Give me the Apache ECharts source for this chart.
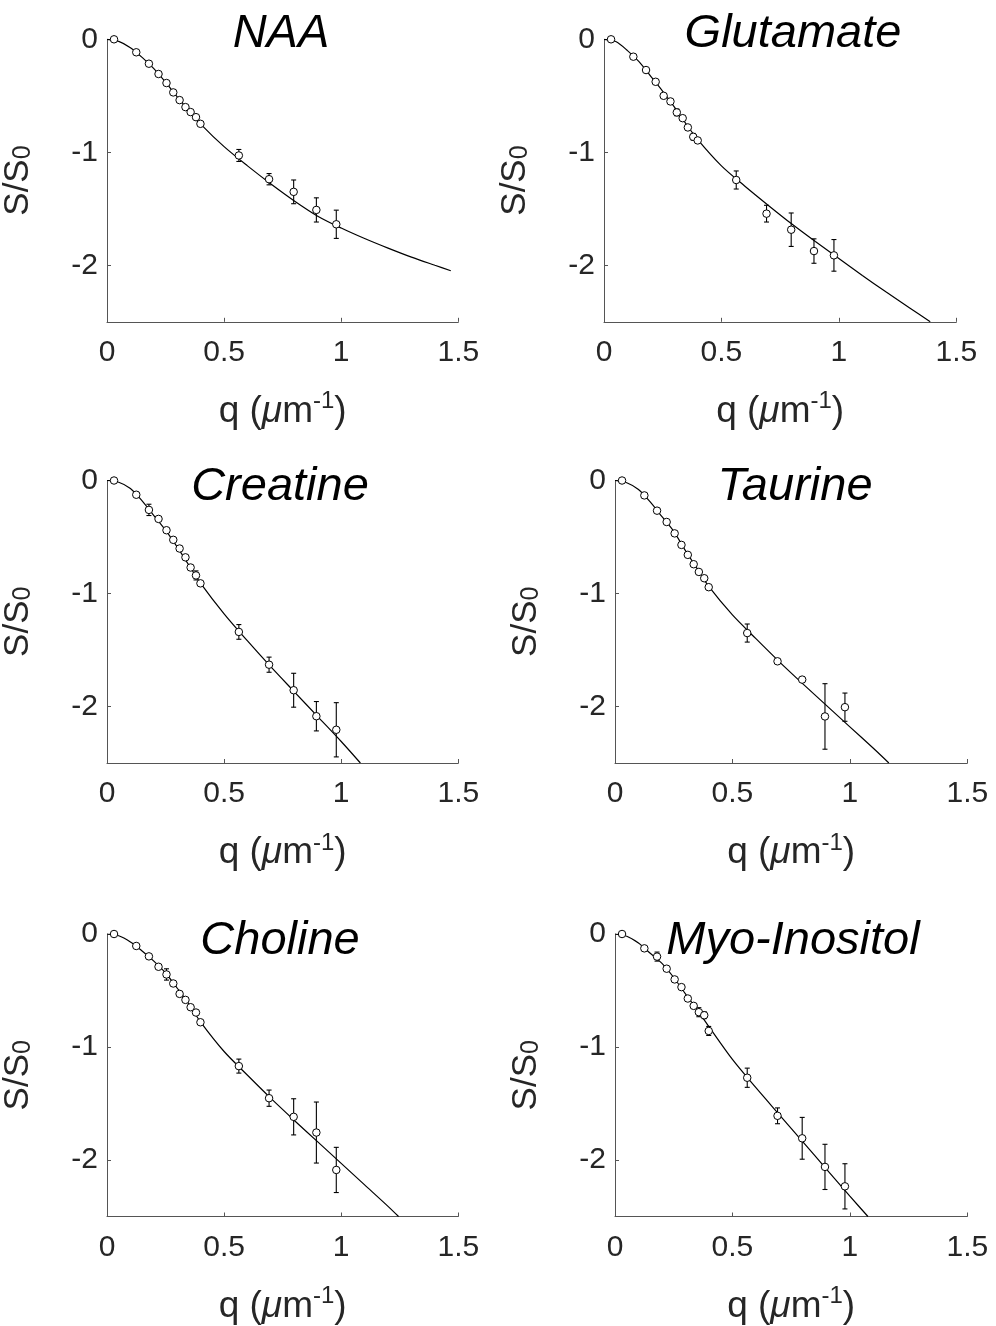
<!DOCTYPE html>
<html><head><meta charset="utf-8">
<script src="https://cdn.jsdelivr.net/npm/echarts@6/dist/echarts.min.js"></script>
<style>html,body{margin:0;padding:0;background:#fff}#c{width:996px;height:1326px}</style>
</head><body><div id="c"></div>
<script>
// ---- tick labels ----
const xTicks = [0, 0.5, 1, 1.5];
const yTicks = [0, -1, -2];
const titles = ['NAA', 'Glutamate', 'Creatine', 'Taurine', 'Choline', 'Myo-Inositol'];

// ---- measured q values (µm^-1), common to all panels ----
const q = [0.03, 0.125, 0.179, 0.22, 0.254, 0.283, 0.31, 0.335, 0.357, 0.38, 0.399, 0.563, 0.692, 0.797, 0.894, 0.979];

// ---- data points and error bars ----
const naaY   = [0, -0.115, -0.216, -0.307, -0.387, -0.470, -0.538, -0.600, -0.644, -0.689, -0.748, -1.028, -1.238, -1.350, -1.510, -1.637];
const naaErr = [0.005, 0.01, 0.01, 0.01, 0.01, 0.01, 0.01, 0.01, 0.01, 0.01, 0.01, 0.053, 0.05, 0.105, 0.107, 0.125];
const gluY   = [0, -0.154, -0.272, -0.376, -0.50, -0.55, -0.647, -0.698, -0.78, -0.863, -0.895, -1.245, -1.543, -1.685, -1.874, -1.912];
const gluErr = [0.005, 0.01, 0.01, 0.01, 0.02, 0.01, 0.03, 0.02, 0.01, 0.03, 0.01, 0.08, 0.074, 0.148, 0.108, 0.14];
const creY   = [0, -0.126, -0.26, -0.34, -0.44, -0.525, -0.602, -0.68, -0.77, -0.84, -0.91, -1.34, -1.63, -1.856, -2.086, -2.206];
const creErr = [0.005, 0.01, 0.05, 0.01, 0.01, 0.01, 0.01, 0.01, 0.02, 0.04, 0.01, 0.065, 0.067, 0.15, 0.13, 0.24];
const tauY   = [0, -0.132, -0.267, -0.367, -0.468, -0.57, -0.658, -0.741, -0.809, -0.865, -0.944, -1.35, -1.60, -1.762, -2.088, -2.006];
const tauErr = [0.005, 0.01, 0.01, 0.01, 0.01, 0.01, 0.01, 0.01, 0.01, 0.01, 0.01, 0.08, 0.02, 0.015, 0.29, 0.125];
const choY   = [0, -0.106, -0.198, -0.29, -0.358, -0.438, -0.53, -0.583, -0.648, -0.695, -0.781, -1.169, -1.453, -1.618, -1.757, -2.088];
const choErr = [0.005, 0.01, 0.01, 0.01, 0.05, 0.02, 0.01, 0.01, 0.02, 0.01, 0.01, 0.062, 0.072, 0.16, 0.27, 0.2];
const myoY   = [0, -0.127, -0.2, -0.307, -0.402, -0.47, -0.571, -0.636, -0.692, -0.719, -0.858, -1.272, -1.609, -1.808, -2.061, -2.233];
const myoErr = [0.005, 0.01, 0.04, 0.01, 0.01, 0.01, 0.01, 0.02, 0.04, 0.03, 0.04, 0.085, 0.07, 0.185, 0.2, 0.2];

// ---- fitted curves ----
const naaFitQ = [0, 0.05, 0.1, 0.15, 0.2, 0.25, 0.3, 0.35, 0.4, 0.5, 0.6, 0.7, 0.8, 0.9, 1.0, 1.1, 1.2, 1.3, 1.4, 1.468];
const naaFitY = [0, -0.018, -0.074, -0.16, -0.26, -0.38, -0.51, -0.63, -0.75, -0.95, -1.12, -1.28, -1.43, -1.565, -1.67, -1.763, -1.848, -1.928, -2.0, -2.048];
const gluFitQ = [0, 0.05, 0.1, 0.15, 0.2, 0.25, 0.3, 0.35, 0.4, 0.5, 0.6, 0.7, 0.8, 0.9, 1.0, 1.1, 1.2, 1.3, 1.389];
const gluFitY = [0, -0.02, -0.1, -0.2, -0.33, -0.46, -0.6, -0.75, -0.89, -1.12, -1.30, -1.47, -1.635, -1.79, -1.94, -2.09, -2.235, -2.375, -2.5];
const creFitQ = [0, 0.05, 0.1, 0.15, 0.2, 0.25, 0.3, 0.35, 0.4, 0.5, 0.6, 0.7, 0.8, 0.9, 1.0, 1.082];
const creFitY = [0, -0.015, -0.07, -0.18, -0.31, -0.44, -0.59, -0.75, -0.91, -1.18, -1.42, -1.65, -1.87, -2.09, -2.31, -2.5];
const tauFitQ = [0, 0.05, 0.1, 0.15, 0.2, 0.25, 0.3, 0.35, 0.4, 0.5, 0.6, 0.7, 0.8, 0.9, 1.0, 1.1, 1.166];
const tauFitY = [0, -0.02, -0.08, -0.19, -0.32, -0.45, -0.62, -0.78, -0.94, -1.19, -1.40, -1.605, -1.80, -1.99, -2.18, -2.37, -2.5];
const choFitQ = [0, 0.05, 0.1, 0.15, 0.2, 0.25, 0.3, 0.35, 0.4, 0.5, 0.6, 0.7, 0.8, 0.9, 1.0, 1.1, 1.2, 1.245];
const choFitY = [0, -0.015, -0.07, -0.15, -0.24, -0.345, -0.48, -0.62, -0.78, -1.04, -1.25, -1.455, -1.65, -1.84, -2.03, -2.22, -2.41, -2.5];
const myoFitQ = [0, 0.05, 0.1, 0.15, 0.2, 0.25, 0.3, 0.35, 0.4, 0.5, 0.6, 0.7, 0.8, 0.9, 1.0, 1.077];
const myoFitY = [0, -0.02, -0.08, -0.17, -0.26, -0.385, -0.53, -0.67, -0.82, -1.11, -1.36, -1.60, -1.84, -2.08, -2.32, -2.5];

// ---- layout (pixels) ----
const FONT = '"Liberation Sans", Arial, Helvetica, sans-serif';
const TXT = '#262626', AX = '#555555';
const layout = [
  {left: 106, top: 39.3, tx: 281, ty: 34},
  {left: 604, top: 39.3, tx: 793, ty: 34},
  {left: 106, top: 480.5, tx: 280, ty: 487},
  {left: 615, top: 480.5, tx: 795, ty: 487},
  {left: 106, top: 934, tx: 280, ty: 941},
  {left: 615, top: 934, tx: 793, ty: 941}
];
const W = 352.3, H = 282.5;
const dataSets = [
  [naaY, naaErr, naaFitQ, naaFitY],
  [gluY, gluErr, gluFitQ, gluFitY],
  [creY, creErr, creFitQ, creFitY],
  [tauY, tauErr, tauFitQ, tauFitY],
  [choY, choErr, choFitQ, choFitY],
  [myoY, myoErr, myoFitQ, myoFitY]
];

function errRender(params, api) {
  const x = api.value(0), lo = api.value(1), hi = api.value(2);
  const p1 = api.coord([x, hi]), p2 = api.coord([x, lo]);
  const w = 2.5;
  const st = {stroke: '#000', lineWidth: 1.1};
  return {type: 'group', children: [
    {type: 'line', shape: {x1: p1[0], y1: p1[1], x2: p2[0], y2: p2[1]}, style: st},
    {type: 'line', shape: {x1: p1[0] - w, y1: p1[1], x2: p1[0] + w, y2: p1[1]}, style: st},
    {type: 'line', shape: {x1: p2[0] - w, y1: p2[1], x2: p2[0] + w, y2: p2[1]}, style: st}
  ]};
}

const grid = [], xAxis = [], yAxis = [], series = [], graphic = [];
layout.forEach((L, i) => {
  const [ys, es, fq, fy] = dataSets[i];
  grid.push({left: L.left, top: L.top, width: W, height: H, containLabel: false});
  xAxis.push({
    type: 'value', gridIndex: i, min: xTicks[0], max: xTicks[xTicks.length - 1], interval: 0.5,
    axisLine: {show: true, onZero: false, lineStyle: {color: AX, width: 1}},
    axisTick: {show: true, inside: true, length: 4, lineStyle: {color: AX}},
    splitLine: {show: false},
    axisLabel: {fontSize: 30, color: TXT, fontFamily: FONT, margin: 16,
      formatter: v => String(v)},
    name: 'q ({mu|μ}m{sup|-1})', nameLocation: 'middle', nameGap: 68,
    nameTextStyle: {fontSize: 37, color: TXT, fontFamily: FONT,
      rich: {mu: {fontSize: 37, fontStyle: 'italic', color: TXT, fontFamily: FONT},
             sup: {fontSize: 24, color: TXT, fontFamily: FONT, padding: [0, 0, 20, 0], verticalAlign: 'middle'}}}
  });
  yAxis.push({
    type: 'value', gridIndex: i, min: -2.5, max: 0, interval: 0.5,
    axisLine: {show: true, onZero: false, lineStyle: {color: AX, width: 1}},
    axisTick: {show: true, inside: true, length: 4, lineStyle: {color: AX}, customValues: yTicks},
    splitLine: {show: false},
    axisLabel: {fontSize: 30, color: TXT, fontFamily: FONT, margin: 9, customValues: yTicks,
      formatter: v => String(v)},
    name: 'S/S{sub|0}', nameLocation: 'middle', nameGap: 71, nameRotate: 90,
    nameTextStyle: {fontSize: 35, color: TXT, fontFamily: FONT,
      rich: {sub: {fontSize: 25, color: TXT, fontFamily: FONT, padding: [10, 0, 0, 0], verticalAlign: 'middle'}}}
  });
  series.push({
    type: 'line', xAxisIndex: i, yAxisIndex: i, data: fq.map((x, k) => [x, fy[k]]),
    smooth: 0.3, showSymbol: false, symbol: 'none',
    lineStyle: {color: '#000', width: 1.2}, z: 2, silent: true
  });
  series.push({
    type: 'custom', xAxisIndex: i, yAxisIndex: i, renderItem: errRender,
    encode: {x: 0, y: [1, 2]},
    data: q.map((x, k) => [x, ys[k] - es[k], ys[k] + es[k]]), z: 3, silent: true
  });
  series.push({
    type: 'scatter', xAxisIndex: i, yAxisIndex: i, data: q.map((x, k) => [x, ys[k]]),
    symbol: 'circle', symbolSize: 7.5,
    itemStyle: {color: '#fff', borderColor: '#000', borderWidth: 1, opacity: 1}, z: 4, silent: true
  });
  graphic.push({type: 'text', x: L.tx, y: L.ty, silent: true,
    style: {text: titles[i], fontSize: 47, fontStyle: 'italic', fontFamily: FONT, fill: '#000',
            align: 'center', verticalAlign: 'middle'}});
});

const chart = echarts.init(document.getElementById('c'), null, {renderer: 'canvas'});
chart.setOption({backgroundColor: '#fff', animation: false, grid, xAxis, yAxis, series, graphic});
</script>
</body></html>
